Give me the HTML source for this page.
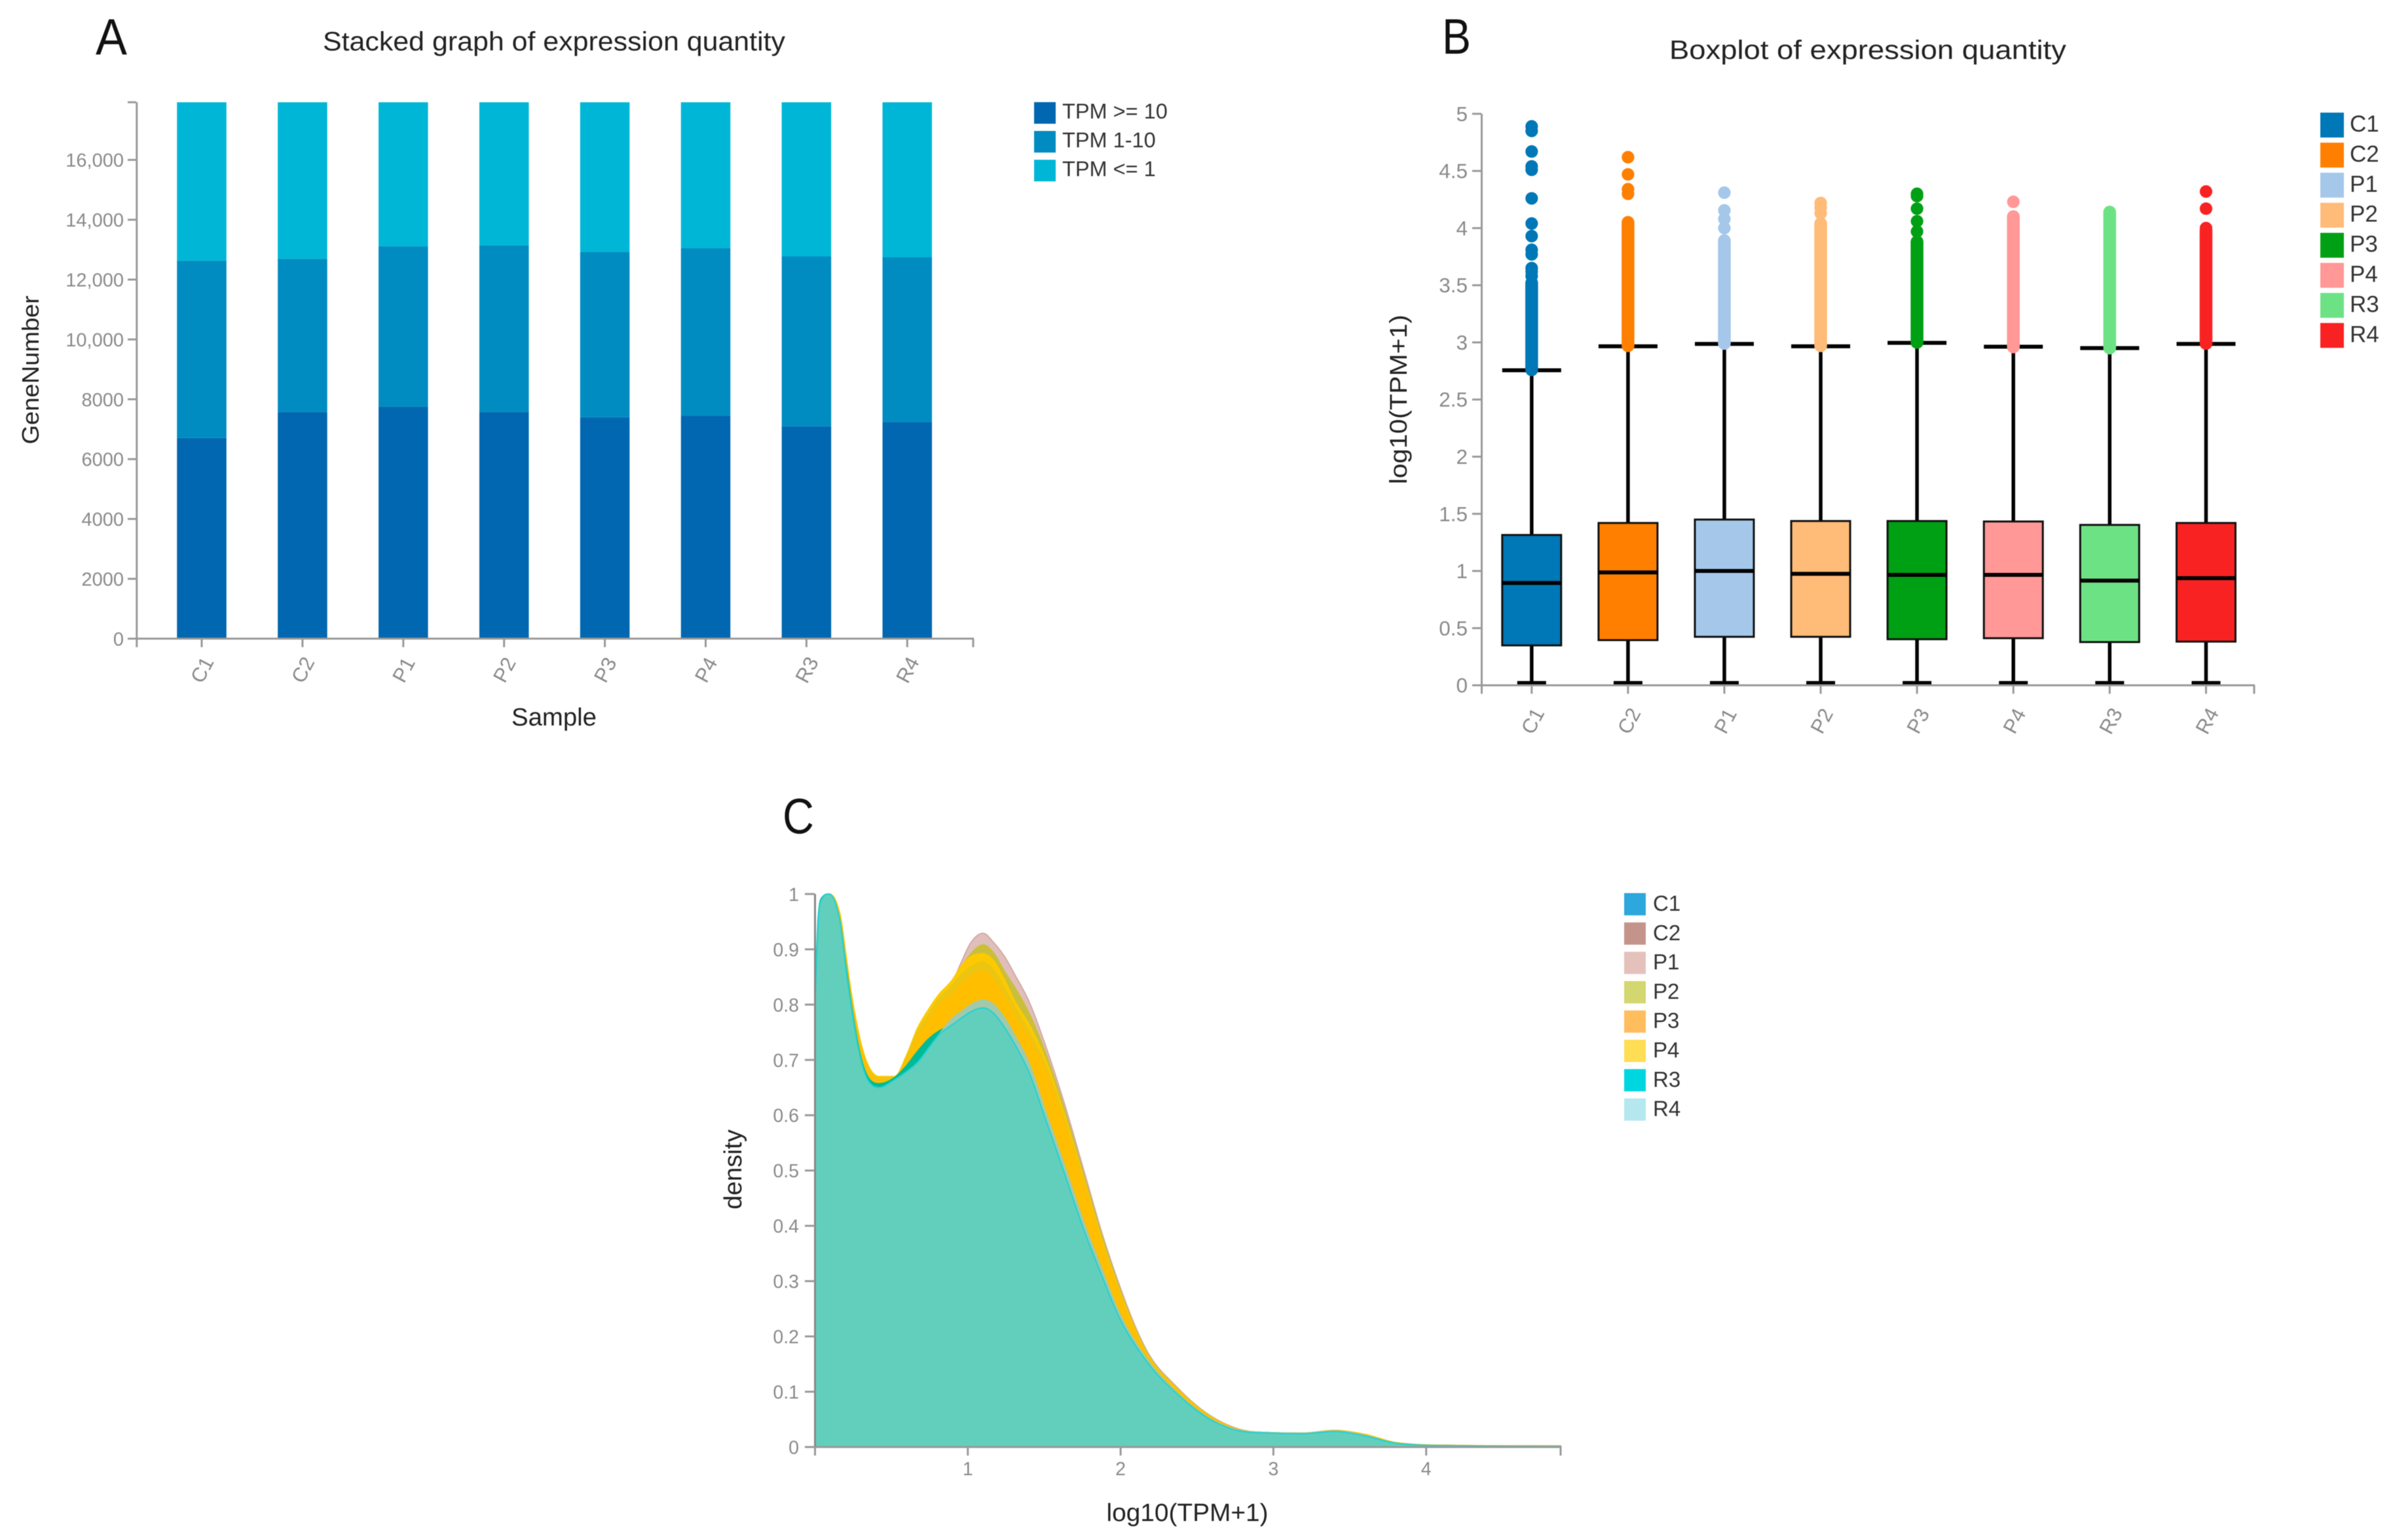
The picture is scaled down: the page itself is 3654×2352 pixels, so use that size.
<!DOCTYPE html>
<html lang="en">
<head>
<meta charset="utf-8">
<title>Expression quantity charts</title>
<style>
html,body{margin:0;padding:0;background:#fff;}
svg{display:block;filter:blur(.6px);}
text{font-family:"Liberation Sans",sans-serif;}
.tick{fill:#8a8a8a;}
.axt{fill:#222;}
</style>
</head>
<body>
<svg id="fig" xmlns="http://www.w3.org/2000/svg" width="3654" height="2352" viewBox="0 0 3654 2352">
<rect width="3654" height="2352" fill="#fff"/>

<g id="chartA">
<text x="146" y="83" font-size="78" textLength="48" lengthAdjust="spacingAndGlyphs" fill="#111">A</text>
<text x="846" y="77" font-size="41" text-anchor="middle" textLength="706" lengthAdjust="spacingAndGlyphs" fill="#222">Stacked graph of expression quantity</text>
<text transform="translate(59,565) rotate(-90)" font-size="36" text-anchor="middle" textLength="227" lengthAdjust="spacingAndGlyphs" class="axt">GeneNumber</text>
<text x="846" y="1108" font-size="38" text-anchor="middle" textLength="130" lengthAdjust="spacingAndGlyphs" class="axt">Sample</text>
</g>

<g id="chartB">
<text x="2202" y="82" font-size="76" textLength="44" lengthAdjust="spacingAndGlyphs" fill="#111">B</text>
<text x="2852" y="90" font-size="41" text-anchor="middle" textLength="606" lengthAdjust="spacingAndGlyphs" fill="#222">Boxplot of expression quantity</text>
<text transform="translate(2148,610) rotate(-90)" font-size="37" text-anchor="middle" textLength="259" lengthAdjust="spacingAndGlyphs" class="axt">log10(TPM+1)</text>
</g>

<g id="chartC">
<text x="1195" y="1273" font-size="76" textLength="48" lengthAdjust="spacingAndGlyphs" fill="#111">C</text>
<text transform="translate(1132,1786) rotate(-90)" font-size="38" text-anchor="middle" textLength="122" lengthAdjust="spacingAndGlyphs" class="axt">density</text>
<text x="1813" y="2323" font-size="38" text-anchor="middle" textLength="247" lengthAdjust="spacingAndGlyphs" class="axt">log10(TPM+1)</text>
</g>
</svg>

<script>
/* ---------- Panel A data ---------- */
const stackCategories = ['C1','C2','P1','P2','P3','P4','R3','R4'];
const tpmHigh = [6709,7576,7752,7576,7399,7447,7094,7239];
const tpmMid  = [5922,5120,5361,5569,5521,5602,5682,5505];
const tpmLow  = [5295,5230,4813,4781,5006,4877,5150,5182];
const stackTickValues = [0,2000,4000,6000,8000,10000,12000,14000,16000];
const stackTickLabels = ['0','2000','4000','6000','8000','10,000','12,000','14,000','16,000'];
const stackDomainMax = 17926;
const stackLegendLabels = ['TPM >= 10','TPM 1-10','TPM <= 1'];

/* ---------- Panel B data ---------- */
const boxCategories = ['C1','C2','P1','P2','P3','P4','R3','R4'];
const boxQ1     = [.349,.395,.424,.424,.403,.412,.378,.382];
const boxMedian = [.895,.987,1.0,.975,.966,.966,.916,.937];
const boxQ3     = [1.315,1.42,1.45,1.437,1.437,1.433,1.403,1.42];
const boxLower  = [.02,.02,.02,.02,.02,.02,.02,.02];
const boxUpper  = [2.756,2.966,2.987,2.966,2.996,2.962,2.95,2.987];
const denseOutlierLow  = [2.76,2.97,2.99,2.97,3.0,2.96,2.95,2.99];
const denseOutlierHigh = [3.52,4.05,3.89,4.04,3.88,4.1,4.14,3.98];
const outlierDots = [
  [4.89,4.85,4.67,4.54,4.51,4.26,4.04,3.93,3.81,3.77,3.65,3.62,3.58],
  [4.62,4.47,4.34,4.3],
  [4.31,4.155,4.08,4.0],
  [4.22,4.18,4.13],
  [4.3,4.28,4.17,4.06,3.97],
  [4.23],
  [],
  [4.32,4.17,4.0]
];
const boxTickValues = [0,.5,1,1.5,2,2.5,3,3.5,4,4.5,5];
const boxTickLabels = ['0','0.5','1','1.5','2','2.5','3','3.5','4','4.5','5'];

/* ---------- Panel C data ---------- */
const densityX = [0,.02,.05,.09,.14,.17,.2,.23,.3,.42,.52,.6,.67,.74,.81,.9,.95,1.02,1.1,1.17,1.24,1.31,1.4,1.51,1.62,1.77,1.88,1.97,2.17,2.37,2.58,2.78,2.99,3.19,3.4,3.6,3.8,4.2,4.88];
const densityP1 = [.80,.945,.993,1,.98,.945,.88,.82,.715,.66,.665,.70,.75,.785,.812,.84,.872,.912,.929,.912,.887,.853,.806,.725,.632,.49,.385,.31,.175,.108,.058,.032,.026,.025,.03,.022,.008,.003,.002];
const densityP2 = [.80,.945,.993,1,.982,.95,.885,.825,.72,.665,.667,.70,.75,.785,.812,.84,.865,.892,.908,.893,.86,.83,.785,.712,.622,.482,.38,.305,.172,.106,.057,.031,.026,.025,.03,.022,.008,.003,.002];
const densityP4 = [.80,.945,.993,1,.985,.955,.895,.835,.731,.67,.67,.709,.757,.79,.818,.845,.867,.887,.892,.879,.845,.805,.765,.70,.612,.475,.373,.30,.17,.105,.056,.031,.026,.025,.03,.023,.008,.002,.001];
const densityC2 = [.80,.945,.993,1,.983,.95,.888,.828,.725,.667,.668,.705,.75,.78,.81,.835,.852,.868,.877,.862,.83,.795,.752,.69,.603,.47,.368,.296,.167,.103,.055,.031,.026,.025,.03,.022,.007,.002,.001];
const densityP3 = [.80,.945,.993,1,.982,.948,.885,.825,.72,.663,.667,.70,.74,.77,.80,.82,.835,.852,.861,.845,.815,.78,.74,.68,.595,.465,.365,.292,.165,.102,.055,.031,.026,.025,.03,.022,.007,.002,.001];
const densityC1 = [.81,.955,.995,1,.978,.94,.875,.815,.705,.657,.668,.69,.715,.737,.752,.764,.774,.787,.794,.784,.759,.727,.678,.592,.505,.385,.308,.247,.155,.096,.051,.029,.025,.024,.028,.02,.007,.002,.001];
const densityR4 = [.80,.945,.993,1,.978,.94,.87,.81,.70,.65,.664,.679,.695,.72,.745,.776,.786,.80,.808,.80,.776,.743,.695,.606,.52,.398,.32,.256,.16,.098,.052,.03,.026,.025,.029,.021,.007,.002,.001];
const densityR3 = [.80,.945,.993,1,.978,.94,.87,.81,.70,.65,.664,.679,.695,.72,.745,.764,.774,.787,.794,.784,.759,.727,.678,.592,.505,.385,.308,.247,.155,.096,.051,.029,.025,.024,.028,.02,.007,.002,.001];
const densityLegendLabels = ['C1','C2','P1','P2','P3','P4','R3','R4'];
const densityYTicks = [0,.1,.2,.3,.4,.5,.6,.7,.8,.9,1];
const densityYLabels = ['0','0.1','0.2','0.3','0.4','0.5','0.6','0.7','0.8','0.9','1'];
const densityXTicks = [1,2,3,4];
const densityXLabels = ['1','2','3','4'];
const densityDomainMax = 4.88;

/* ---------- Styling ---------- */
const stackColors = ['#0067b0','#008cc0','#00b6d6'];
const boxColors = ['#0077b6','#ff7f00','#a4c7ea','#ffbb78','#00a014','#ff9896','#6de285','#f92222'];
const densitySwatches = ['#2ea7dc','#c4948a','#e4c2bb','#d4d66f','#ffbd5e','#ffdd55','#00d6e0','#b4e8ee'];
const AXIS = '#999';
const NS = 'http://www.w3.org/2000/svg';

function mk(tag, attrs, parent){
  const n = document.createElementNS(NS, tag);
  for (const k in attrs) n.setAttribute(k, attrs[k]);
  parent.appendChild(n);
  return n;
}
/* monotone cubic through points with slope-weighted tangents */
function smoothPath(px, py){
  const n = px.length, d = [], h = [], m = [];
  for (let i = 0; i < n-1; i++) { h.push(px[i+1]-px[i]); d.push((py[i+1]-py[i])/h[i]); }
  m[0] = d[0]; m[n-1] = d[n-2];
  for (let i = 1; i < n-1; i++) {
    const p = (d[i-1]*h[i]+d[i]*h[i-1])/(h[i-1]+h[i]);
    const lim = 3*Math.min(Math.abs(d[i-1]),Math.abs(d[i]));
    m[i] = d[i-1]*d[i] <= 0 ? 0 : Math.sign(p)*Math.min(Math.abs(p),lim);
  }
  let s = '';
  for (let i = 0; i < n-1; i++) {
    const t = h[i]/3;
    s += ' C' + (px[i]+t).toFixed(2) + ' ' + (py[i]+m[i]*t).toFixed(2) + ' ' +
         (px[i+1]-t).toFixed(2) + ' ' + (py[i+1]-m[i+1]*t).toFixed(2) + ' ' +
         px[i+1].toFixed(2) + ' ' + py[i+1].toFixed(2);
  }
  return s;
}

/* ========== Panel A ========== */
const gA = document.getElementById('chartA');
const xA = i => 308 + 153.9*i;
const yA = v => 975.4 - v*(731.2/16000);
const barW = 75.5;
const stackSeries = [tpmHigh, tpmMid, tpmLow];
stackCategories.forEach((cat, i) => {
  let base = 0;
  stackSeries.forEach((vals, s) => {
    const r = mk('rect', {x:xA(i)-barW/2, y:yA(base+vals[i]), width:barW, height:yA(base)-yA(base+vals[i]), fill:stackColors[s]}, gA);
    
    
    base += vals[i];
  });
});
const axAy = mk('line', {x1:208.8, x2:208.8, y1:yA(stackDomainMax), y2:yA(0), stroke:AXIS, 'stroke-width':3}, gA);


const axAx = mk('line', {x1:207.3, x2:1487, y1:yA(0), y2:yA(0), stroke:AXIS, 'stroke-width':3}, gA);


stackTickValues.forEach((v, i) => {
  const t = mk('line', {x1:195, x2:208, y1:yA(v), y2:yA(v), stroke:AXIS, 'stroke-width':3}, gA);
  
  
  const l = mk('text', {x:189, y:yA(v)+10.5, 'font-size':29, 'text-anchor':'end', class:'tick'}, gA);
  l.textContent = stackTickLabels[i];
  
  
});
const topTickA = mk('line', {x1:195, x2:208, y1:yA(stackDomainMax), y2:yA(stackDomainMax), stroke:AXIS, 'stroke-width':3}, gA);


[208.8, 1486].forEach(x => {
  const t = mk('line', {x1:x, x2:x, y1:yA(0), y2:yA(0)+13, stroke:AXIS, 'stroke-width':3}, gA);
  
  
});
stackCategories.forEach((cat, i) => {
  const t = mk('line', {x1:xA(i), x2:xA(i), y1:yA(0), y2:yA(0)+13, stroke:AXIS, 'stroke-width':3}, gA);
  
  
  const l = mk('text', {transform:'translate('+(xA(i)+10)+',1028) rotate(-62)', 'font-size':31, 'text-anchor':'middle', class:'tick'}, gA);
  l.textContent = cat;
  
  
});
stackLegendLabels.forEach((lab, i) => {
  const y = 156 + i*44;
  const s = mk('rect', {x:1579, y:y, width:33, height:33, fill:stackColors[i]}, gA);
  
  
  const l = mk('text', {x:1622, y:y+25, 'font-size':32.5, fill:'#333'}, gA);
  l.textContent = lab;
  
  
});

/* ========== Panel B ========== */
const gB = document.getElementById('chartB');
const xB = i => 2338.8 + 147.1*i;
const yB = v => 1046.6 - v*174.56;
const boxW = 90;
boxCategories.forEach((cat, i) => {
  const cx = xB(i), col = boxColors[i];
  const w = mk('line', {x1:cx, x2:cx, y1:yB(boxUpper[i]), y2:yB(boxLower[i]), stroke:'#000', 'stroke-width':5.5}, gB);
  
  
  const capU = mk('line', {x1:cx-boxW/2, x2:cx+boxW/2, y1:yB(boxUpper[i]), y2:yB(boxUpper[i]), stroke:'#000', 'stroke-width':6}, gB);
  
  
  const capL = mk('line', {x1:cx-22, x2:cx+22, y1:yB(boxLower[i]), y2:yB(boxLower[i]), stroke:'#000', 'stroke-width':6}, gB);
  
  
  const b = mk('rect', {x:cx-boxW/2, y:yB(boxQ3[i]), width:boxW, height:yB(boxQ1[i])-yB(boxQ3[i]), fill:col, stroke:'#111', 'stroke-width':3}, gB);
  
  
  const m = mk('line', {x1:cx-boxW/2, x2:cx+boxW/2, y1:yB(boxMedian[i]), y2:yB(boxMedian[i]), stroke:'#000', 'stroke-width':6}, gB);
  
  
  const d = mk('line', {x1:cx, x2:cx, y1:yB(denseOutlierLow[i]), y2:yB(denseOutlierHigh[i]), stroke:col, 'stroke-width':19.5, 'stroke-linecap':'round'}, gB);
  
  
  outlierDots[i].forEach(v => {
    const c = mk('circle', {cx:cx, cy:yB(v), r:9.6, fill:col}, gB);
    
    
  });
});
const axBy = mk('line', {x1:2262.5, x2:2262.5, y1:yB(5), y2:yB(0), stroke:AXIS, 'stroke-width':3}, gB);


const axBx = mk('line', {x1:2261, x2:3443, y1:yB(0), y2:yB(0), stroke:AXIS, 'stroke-width':3}, gB);


boxTickValues.forEach((v, i) => {
  const t = mk('line', {x1:2248, x2:2262, y1:yB(v), y2:yB(v), stroke:AXIS, 'stroke-width':3}, gB);
  
  
  const l = mk('text', {x:2241, y:yB(v)+11, 'font-size':31.5, 'text-anchor':'end', class:'tick'}, gB);
  l.textContent = boxTickLabels[i];
  
  
});
[2262.5, 3442].forEach(x => {
  const t = mk('line', {x1:x, x2:x, y1:yB(0), y2:yB(0)+13, stroke:AXIS, 'stroke-width':3}, gB);
  
  
});
boxCategories.forEach((cat, i) => {
  const t = mk('line', {x1:xB(i), x2:xB(i), y1:yB(0), y2:yB(0)+13, stroke:AXIS, 'stroke-width':3}, gB);
  
  
  const l = mk('text', {transform:'translate('+(xB(i)+11)+',1106) rotate(-62)', 'font-size':31, 'text-anchor':'middle', class:'tick'}, gB);
  l.textContent = cat;
  
  
});
boxCategories.forEach((cat, i) => {
  const y = 172 + i*45.9;
  const s = mk('rect', {x:3543, y:y, width:36, height:38, fill:boxColors[i]}, gB);
  
  
  const l = mk('text', {x:3588, y:y+29, 'font-size':35, fill:'#333'}, gB);
  l.textContent = cat;
  
  
});

/* ========== Panel C ========== */
const gC = document.getElementById('chartC');
const xC = v => 1244.5 + v*233.3;
const yC = v => 2210 - v*844.6;
const densityLayers = [
  ['P1', densityP1, '#e0bfba', '#d2aaa4'],
  ['P2', densityP2, '#c9bf3a', '#c9bf3a'],
  ['P4', densityP4, '#fdc900', '#fdc900'],
  ['C2', densityC2, '#ecc412', '#ecc412'],
  ['P3', densityP3, '#ffbe00', '#ffbe00'],
  ['C1', densityC1, '#00ba98', '#00ba98'],
  ['R4', densityR4, '#a2c9ab', '#a2c9ab'],
  ['R3', densityR3, '#62cfbc', '#1dd2d8']
];
densityLayers.forEach(layer => {
  const px = densityX.map(xC), py = layer[1].map(yC);
  const d = 'M' + px[0].toFixed(2) + ' ' + yC(0).toFixed(2) + ' L' + px[0].toFixed(2) + ' ' + py[0].toFixed(2) +
            smoothPath(px, py) + ' L' + px[px.length-1].toFixed(2) + ' ' + yC(0).toFixed(2) + ' Z';
  const a = mk('path', {d:d, fill:layer[2], stroke:layer[3], 'stroke-width':2, 'stroke-linejoin':'round'}, gC);
  
  
});
const axCy = mk('line', {x1:1244.5, x2:1244.5, y1:yC(1), y2:yC(0), stroke:'#888', 'stroke-width':3}, gC);


const axCx = mk('line', {x1:1243, x2:xC(densityDomainMax)+1.5, y1:yC(0), y2:yC(0), stroke:AXIS, 'stroke-width':3}, gC);


densityYTicks.forEach((v, i) => {
  const t = mk('line', {x1:1229, x2:1244, y1:yC(v), y2:yC(v), stroke:AXIS, 'stroke-width':3}, gC);
  
  
  const l = mk('text', {x:1220, y:yC(v)+10.5, 'font-size':28.5, 'text-anchor':'end', class:'tick'}, gC);
  l.textContent = densityYLabels[i];
  
  
});
[0, densityDomainMax].forEach(v => {
  const t = mk('line', {x1:xC(v), x2:xC(v), y1:yC(0), y2:yC(0)+13, stroke:AXIS, 'stroke-width':3}, gC);
  
  
});
densityXTicks.forEach((v, i) => {
  const t = mk('line', {x1:xC(v), x2:xC(v), y1:yC(0), y2:yC(0)+13, stroke:AXIS, 'stroke-width':3}, gC);
  
  
  const l = mk('text', {x:xC(v), y:2253, 'font-size':28.5, 'text-anchor':'middle', class:'tick'}, gC);
  l.textContent = densityXLabels[i];
  
  
});
densityLegendLabels.forEach((lab, i) => {
  const y = 1364 + i*44.8;
  const s = mk('rect', {x:2480, y:y, width:33, height:34, fill:densitySwatches[i]}, gC);
  
  
  const l = mk('text', {x:2524, y:y+27, 'font-size':33, fill:'#333'}, gC);
  l.textContent = lab;
  
  
});
</script>
</body>
</html>
